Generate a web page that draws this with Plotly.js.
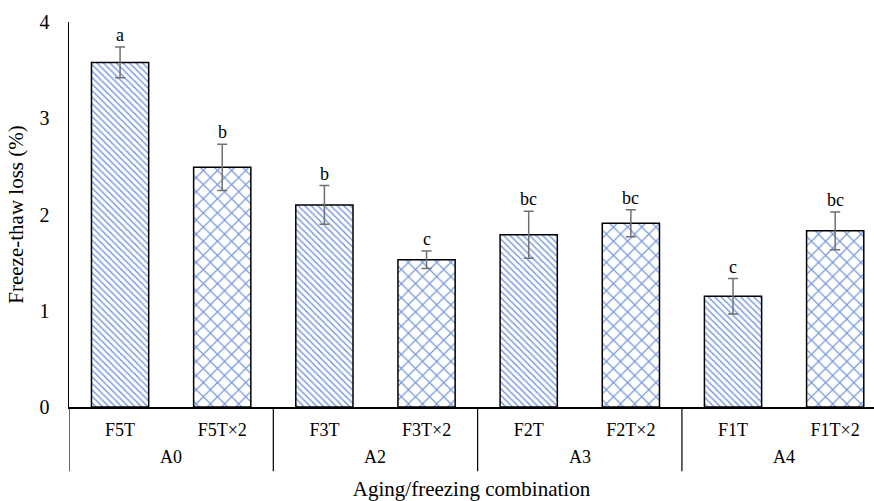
<!DOCTYPE html>
<html>
<head>
<meta charset="utf-8">
<script src="https://cdn.plot.ly/plotly-3.0.1.min.js"></script>
<style>html,body{margin:0;padding:0;background:#fff}#chart{width:874px;height:501px}</style>
</head>
<body>
<div id="chart"></div>
<script>
var groups = ['A0','A0','A2','A2','A3','A3','A4','A4'];
var treatments = ['F5T','F5T×2','F3T','F3T×2','F2T','F2T×2','F1T','F1T×2'];
var loss = [3.58, 2.49, 2.10, 1.53, 1.79, 1.91, 1.15, 1.83];
var errs = [0.16, 0.24, 0.20, 0.09, 0.245, 0.14, 0.185, 0.195];
var letters = ['a','b','b','c','bc','bc','c','bc'];
var groupNames = ['A0','A2','A3','A4'];

var isDouble = treatments.map(function(t){ return t.indexOf('×2') >= 0; });
var shapesPat = isDouble.map(function(d){ return d ? 'x' : '\\'; });
var sizes = isDouble.map(function(d){ return d ? 10 : 4.6; });
var solid = isDouble.map(function(d){ return d ? 0.22 : 0.32; });

var font = '"Times New Roman", "Liberation Serif", serif';
var idx = treatments.map(function(_, i){ return i; });

var trace = {
  type: 'bar',
  x: treatments,
  y: loss,
  width: 0.56,
  marker: {
    color: '#ffffff',
    line: {color: '#000000', width: 1.5},
    pattern: {shape: shapesPat, fgcolor: '#7597dd', bgcolor: '#ffffff', size: sizes, solidity: solid, fillmode: 'replace'}
  },
  error_y: {type: 'data', array: errs, visible: true, color: '#707070', thickness: 1.5, width: 5},
  hoverinfo: 'none'
};

var annotations = loss.map(function(v, i){
  return {
    x: i, y: v + errs[i], xref: 'x', yref: 'y',
    text: letters[i], showarrow: false, yanchor: 'bottom', yshift: 0,
    font: {family: font, size: 18, color: '#000'}
  };
});

// group labels centred under their members
groupNames.forEach(function(g){
  var members = idx.filter(function(i){ return groups[i] === g; });
  var mid = (members[0] + members[members.length - 1]) / 2;
  annotations.push({
    x: mid, y: 0, xref: 'x', yref: 'paper', yanchor: 'middle', yshift: -50,
    text: g, showarrow: false, font: {family: font, size: 18, color: '#000'}
  });
});

// dividers at group boundaries
var shapes = [];
var boundaries = [-0.5];
idx.forEach(function(i){ if (i === idx.length - 1 || groups[i] !== groups[i + 1]) boundaries.push(i + 0.5); });
boundaries.forEach(function(b){
  shapes.push({type: 'line', xref: 'x', yref: 'paper', x0: b, x1: b, y0: 0, y1: -0.167,
    line: {color: '#000', width: 1.2}});
});

var layout = {
  width: 874, height: 501,
  margin: {l: 69, r: 0, t: 22, b: 94},
  paper_bgcolor: '#fff', plot_bgcolor: '#fff',
  showlegend: false,
  font: {family: font, size: 18, color: '#000'},
  xaxis: {
    type: 'category',
    range: [-0.5, 7.38],
    showline: true, linecolor: '#000', linewidth: 1.5,
    ticks: '', showgrid: false,
    ticklabelstandoff: 6,
    tickfont: {family: font, size: 18, color: '#000'},
    title: {text: 'Aging/freezing combination', font: {family: font, size: 21, color: '#000'}, standoff: 43}
  },
  yaxis: {
    range: [0, 4],
    tickvals: [0,1,2,3,4],
    showline: true, linecolor: '#000', linewidth: 1.5,
    showgrid: false, zeroline: false, ticks: '',
    ticklabelstandoff: 14,
    tickfont: {family: font, size: 20, color: '#000'},
    title: {text: 'Freeze-thaw loss (%)', font: {family: font, size: 21, color: '#000'}, standoff: 10}
  },
  annotations: annotations,
  shapes: shapes
};

Plotly.newPlot('chart', [trace], layout, {displayModeBar: false, staticPlot: true});
</script>
</body>
</html>
